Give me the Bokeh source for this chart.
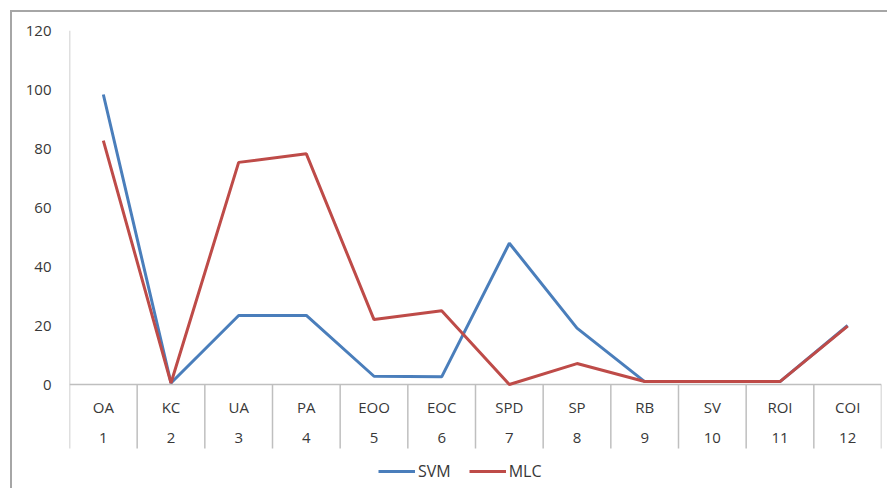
from bokeh.plotting import figure
from bokeh.models import (FixedTicker, Legend, LegendItem, Range1d, ColumnDataSource)
from bokeh.core.properties import value
from bokeh.embed import file_html
from bokeh.resources import INLINE

categories = ["OA", "KC", "UA", "PA", "EOO", "EOC", "SPD", "SP", "RB", "SV", "ROI", "COI"]
numbers = ["1", "2", "3", "4", "5", "6", "7", "8", "9", "10", "11", "12"]
svm = [98.3, 0.5, 23.4, 23.4, 2.8, 2.6, 47.9, 19.1, 1.0, 1.0, 1.0, 20.0]
mlc = [82.7, 0.5, 75.3, 78.2, 22.0, 25.0, 0.0, 7.1, 1.0, 1.0, 1.0, 19.8]
y_ticks = [0, 20, 40, 60, 80, 100, 120]

FONT = "Open Sans"
TXT = "#383838"
GRID = "#bfbfbf"

n = len(categories)
x = list(range(1, n + 1))

# vertical extent of the category-label block below the zero line (in value units)
Y_LOW = -35.93
SEP_BOTTOM = -21.7
ROW1 = -7.46
ROW2 = -18.3

p = figure(width=877, height=478, output_backend="svg", toolbar_location=None,
           x_range=Range1d(0.5, n + 0.5), y_range=Range1d(Y_LOW, 120),
           x_axis_location=None,
           min_border_left=57, min_border_right=8, min_border_top=18, min_border_bottom=0)
p.margin = (10, 0, 0, 10)
p.styles = {"border-left": "2px solid #a6a6a6", "border-top": "2px solid #a6a6a6"}
p.outline_line_color = None
p.xgrid.visible = False
p.ygrid.visible = False
p.background_fill_color = "white"
p.border_fill_color = "white"

# y axis (labels only; the line is drawn as a segment so it stops at the label block)
p.yaxis.ticker = FixedTicker(ticks=y_ticks)
p.yaxis.major_tick_line_color = None
p.yaxis.major_tick_out = 0
p.yaxis.minor_tick_line_color = None
p.yaxis.axis_line_color = None
p.yaxis.major_label_text_font = FONT
p.yaxis.major_label_text_font_size = "15px"
p.yaxis.major_label_text_color = TXT
p.yaxis.major_label_standoff = 18

# left axis line
p.segment(x0=[0.5], y0=[120], x1=[0.5], y1=[SEP_BOTTOM], line_color=GRID, line_width=1.5)
# category axis line at zero
p.segment(x0=[0.5], y0=[0], x1=[n + 0.5], y1=[0], line_color=GRID, line_width=1.5)
# category separators
seps = [i + 0.5 for i in range(1, n + 1)]
p.segment(x0=seps, y0=[0] * n, x1=seps, y1=[SEP_BOTTOM] * n, line_color=GRID, line_width=1.5)

# two-level category labels
lab = ColumnDataSource(dict(x=x, cat=categories, num=numbers,
                            y1=[ROW1] * n, y2=[ROW2] * n))
p.text(x="x", y="y1", text="cat", source=lab, text_align="center", text_baseline="middle",
       text_font=value(FONT), text_font_size="15px", text_color=TXT)
p.text(x="x", y="y2", text="num", source=lab, text_align="center", text_baseline="middle",
       text_font=value(FONT), text_font_size="15px", text_color=TXT)

r_svm = p.line(x, svm, line_color="#4A7EBB", line_width=3)
r_mlc = p.line(x, mlc, line_color="#BE4B48", line_width=3)

legend = Legend(items=[LegendItem(label="SVM", renderers=[r_svm]),
                       LegendItem(label="MLC", renderers=[r_mlc])],
                orientation="horizontal", location=(309, 8),
                label_text_font=FONT, label_text_font_size="16px", label_text_color=TXT,
                glyph_width=37, label_standoff=3, spacing=18, padding=0, margin=0,
                border_line_color=None, background_fill_alpha=0)
p.add_layout(legend, "center")

open("out.html", "w").write(file_html(p, INLINE))
